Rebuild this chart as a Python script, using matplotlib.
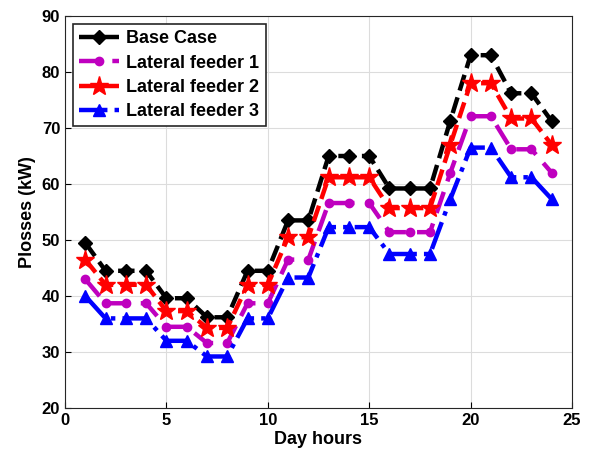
import matplotlib
matplotlib.use("Agg")
import matplotlib.pyplot as plt

plt.rcParams["font.family"] = ["Liberation Sans", "DejaVu Sans"]
plt.rcParams["font.weight"] = "bold"

hours = list(range(1, 25))
base_case = [49.5, 44.5, 44.5, 44.5, 39.6, 39.6, 36.2, 36.2, 44.5, 44.5, 53.5, 53.5,
             65.0, 65.0, 65.0, 59.2, 59.2, 59.2, 71.3, 83.0, 83.0, 76.2, 76.2, 71.2]
feeder1 = [43.0, 38.7, 38.7, 38.7, 34.5, 34.5, 31.6, 31.6, 38.7, 38.7, 46.5, 46.5,
           56.6, 56.6, 56.6, 51.4, 51.4, 51.4, 62.0, 72.1, 72.1, 66.2, 66.2, 62.0]
feeder2 = [46.5, 42.0, 42.0, 42.0, 37.3, 37.3, 34.3, 34.3, 42.0, 42.0, 50.5, 50.5,
           61.2, 61.2, 61.2, 55.7, 55.7, 55.7, 67.0, 78.0, 78.0, 71.7, 71.7, 67.0]
feeder3 = [40.0, 36.0, 36.0, 36.0, 32.0, 32.0, 29.2, 29.2, 36.0, 36.0, 43.3, 43.3,
           52.3, 52.3, 52.3, 47.5, 47.5, 47.5, 57.3, 66.5, 66.5, 61.2, 61.2, 57.3]

fig = plt.figure(figsize=(5.89, 4.62), dpi=100)
ax = fig.add_axes([65 / 589, 1 - 408 / 462, (572 - 65) / 589, (408 - 16) / 462])

ax.plot(hours, base_case, color="black", ls="--", lw=3.2, marker="D", ms=7, label="Base Case")
ax.plot(hours, feeder1, color="#BF00BF", ls=(0, (5, 2.5)), lw=3.2, marker="o", ms=6, label="Lateral feeder 1")
ax.plot(hours, feeder2, color="red", ls="--", lw=3.2, marker="*", ms=14, label="Lateral feeder 2")
ax.plot(hours, feeder3, color="blue", ls="-.", lw=3.2, marker="^", ms=9, label="Lateral feeder 3")

ax.set_xlim(0, 25)
ax.set_ylim(20, 90)
ax.set_xticks([0, 5, 10, 15, 20, 25])
ax.set_yticks(range(20, 91, 10))
ax.grid(True, color="#dcdcdc", lw=0.8)
ax.tick_params(labelsize=12, direction="in", length=4)
for lab in ax.get_xticklabels() + ax.get_yticklabels():
    lab.set_fontweight("bold")
for s in ax.spines.values():
    s.set_color("#262626")
ax.set_xlabel("Day hours", fontsize=13, fontweight="bold", labelpad=2)
ax.set_ylabel("Plosses (kW)", fontsize=13, fontweight="bold")

leg = ax.legend(loc="upper left", fontsize=13, handlelength=2.2, borderaxespad=0.45,
                fancybox=False, framealpha=1, edgecolor="#262626", labelspacing=0.4,
                handletextpad=0.4, borderpad=0.35)
leg.get_frame().set_linewidth(1.2)

fig.savefig("out.png", dpi=100)
